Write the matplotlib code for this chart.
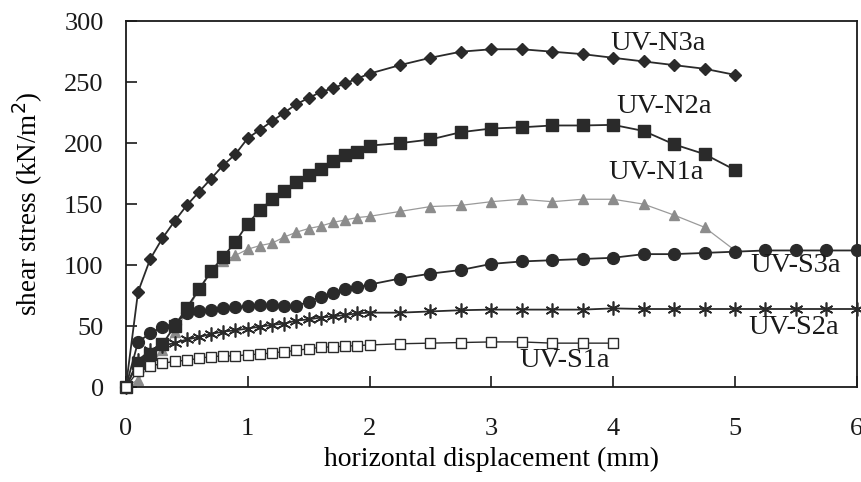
import numpy as np
import matplotlib.pyplot as plt

plt.rcParams['font.family'] = ['Liberation Serif', 'DejaVu Serif']

# 位移 (mm): 0〜2 は 0.1 刻み, それ以降は 0.25 刻み
x_fine = [round(0.1 * i, 1) for i in range(21)]
x_coarse = [2.25, 2.5, 2.75, 3.0, 3.25, 3.5, 3.75, 4.0, 4.25, 4.5, 4.75, 5.0,
            5.25, 5.5, 5.75, 6.0]

n3a = [0, 78, 105, 122, 136, 149, 160, 171, 182, 191, 204, 211, 218, 225, 232,
       237, 242, 245, 249, 253, 257,
       264, 270, 275, 277, 277, 275, 273, 270, 267, 264, 261, 256]
n2a = [0, 20, 27, 35, 50, 65, 80, 95, 107, 119, 134, 145, 154, 161, 168,
       174, 179, 185, 190, 193, 198,
       200, 203, 209, 212, 213, 214.5, 214.5, 215, 210, 199, 191, 178]
n1a = [0, 6, 18, 30, 45, 62, 80, 94, 103, 108, 113, 116, 118, 123, 127,
       130, 132, 135, 137, 139, 140,
       144, 148, 149, 152, 154, 152, 154, 154, 150, 141, 131, 112]
s3a = [0, 37, 44, 49.5, 52, 60.5, 62, 63.5, 64.5, 65.5, 66.5, 67.5, 67, 66.5,
       66.5, 70, 74, 77, 80, 82, 84,
       89, 93, 96, 101, 103, 104, 105, 106, 109, 109, 110, 111, 112, 112, 112, 112]
s2a = [0, 22, 30, 34, 36, 39, 41, 43.5, 45.5, 46.5, 48, 49.5, 51, 52, 54.5,
       55.5, 57, 58, 59, 60.5, 61,
       61, 62, 63, 63.5, 63.5, 63.5, 63.5, 64.5, 64, 64, 64, 64, 64, 64, 64, 64]
s1a = [0, 13, 17, 19.5, 21, 22, 23.5, 25, 25.5, 25.5, 26.5, 27, 28, 29, 30,
       31.5, 32.5, 33, 33.5, 34, 34.5,
       35.5, 36, 36.5, 37, 37, 36, 36, 36]

labels = ['UV-N3a', 'UV-N2a', 'UV-N1a', 'UV-S3a', 'UV-S2a', 'UV-S1a']
label_pos = [(3.98, 282), (4.03, 230), (3.96, 176), (5.13, 100), (5.11, 49), (3.23, 22)]

x_all = np.array(x_fine + x_coarse)

fig = plt.figure(figsize=(8.62, 4.82), dpi=100)
ax = fig.add_axes([0.146, 0.197, 0.848, 0.759])

dark = '#2a2a2a'
ax.plot(x_all[:len(n1a)], n1a, color='#9a9a9a', lw=0.9, marker='^', ms=7,
        mfc='#8c8c8c', mec='#8c8c8c', clip_on=False, zorder=2)
ax.plot(x_all[:len(n3a)], n3a, color=dark, lw=1.3, marker='D', ms=6.5,
        mfc=dark, mec=dark, clip_on=False, zorder=3)
ax.plot(x_all[:len(n2a)], n2a, color=dark, lw=1.3, marker='s', ms=9,
        mfc=dark, mec=dark, clip_on=False, zorder=3)
ax.plot(x_all[:len(s3a)], s3a, color=dark, lw=1.3, marker='o', ms=8.5,
        mfc=dark, mec=dark, clip_on=False, zorder=3)
ax.plot(x_all[:len(s2a)], s2a, color=dark, lw=1.3, marker=(6, 2, 0), ms=10,
        mfc=dark, mec=dark, mew=1.2, clip_on=False, zorder=3)
ax.plot(x_all[:len(s1a)], s1a, color=dark, lw=1.0, marker='s', ms=7,
        mfc='white', mec=dark, mew=1.0, clip_on=False, zorder=3)

for lab, (lx, ly) in zip(labels, label_pos):
    ax.text(lx, ly, lab, fontsize=20.5, va='center', ha='left', color='#1a1a1a',
            zorder=5)

ax.set_xlim(0, 6)
ax.set_ylim(0, 300)
ax.set_xticks(range(0, 7))
ax.set_yticks(range(0, 301, 50))
ax.tick_params(direction='in', length=8, width=1.2, labelsize=19,
               colors='#1a1a1a')
ax.tick_params(axis='x', pad=22)
ax.tick_params(axis='y', pad=16)
for sp in ax.spines.values():
    sp.set_linewidth(1.3)
    sp.set_color('#1a1a1a')

ax.set_xlabel('horizontal displacement (mm)', fontsize=20, labelpad=5)
ax.set_ylabel('shear stress (kN/m$^2$)', fontsize=19.5, labelpad=14)

fig.savefig('out.png', dpi=100)
